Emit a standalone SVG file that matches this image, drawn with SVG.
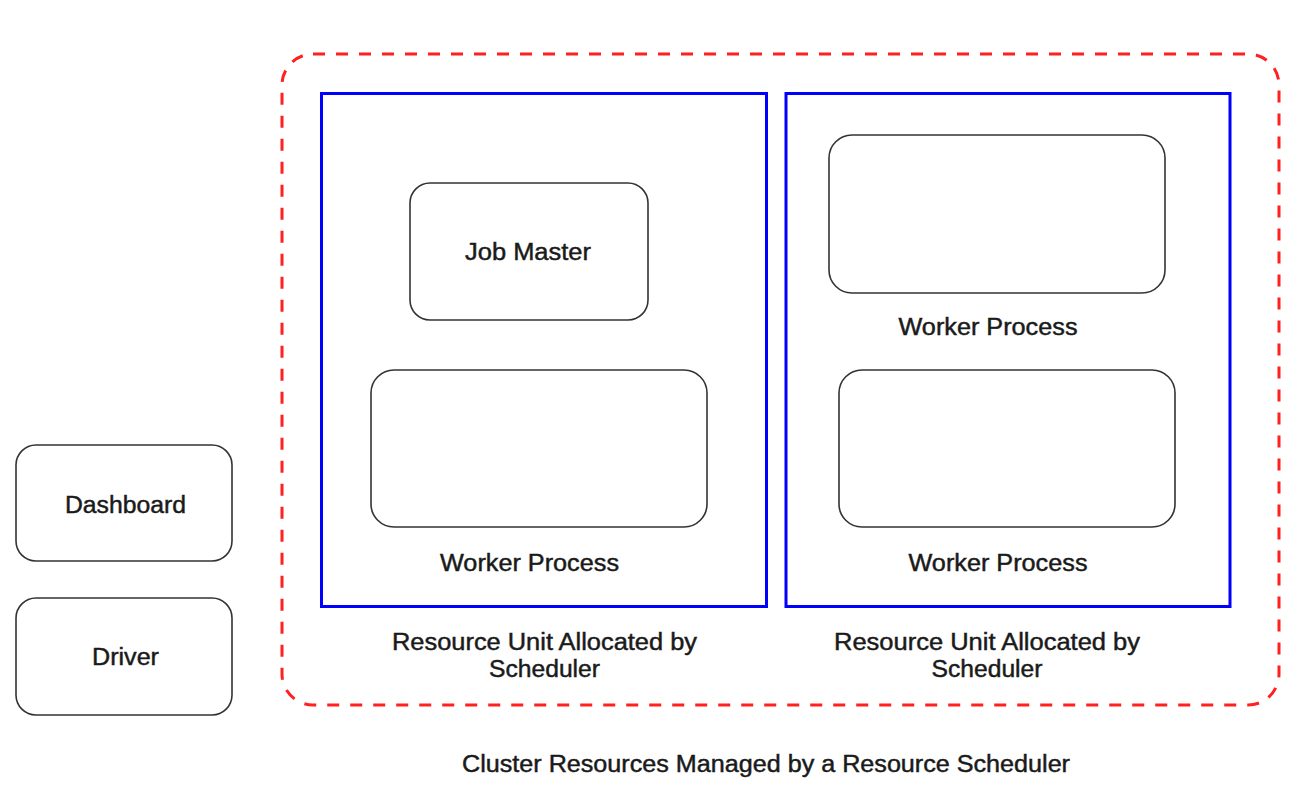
<svg xmlns="http://www.w3.org/2000/svg" width="1304" height="802" viewBox="0 0 1304 802">
<style>
.bg{fill:#ffffff}
.cluster{fill:none;stroke:#ff2020;stroke-width:3;stroke-dasharray:12 11}
.unit{fill:none;stroke:#0000ff;stroke-width:3}
.box{fill:#ffffff;stroke:#333333;stroke-width:1.6}
text{font-family:"Liberation Sans",Arial,Helvetica,sans-serif;font-size:23px;fill:#1a1a1a;stroke:#1a1a1a;stroke-width:0.45;text-anchor:middle}
</style>
<rect class="bg" x="0" y="0" width="1304" height="802"/>
<g id="cluster">
<rect class="cluster" x="282" y="54" width="997" height="651" rx="31" ry="31"/>
<text x="766" y="772" textLength="608" lengthAdjust="spacingAndGlyphs">Cluster Resources Managed by a Resource Scheduler</text>
</g>
<g id="unit1">
<rect class="unit" x="321.5" y="93.5" width="445" height="513"/>
<text x="544.5" y="650" textLength="305" lengthAdjust="spacingAndGlyphs">Resource Unit Allocated by</text>
<text x="544.5" y="677" textLength="111" lengthAdjust="spacingAndGlyphs">Scheduler</text>
</g>
<g id="unit2">
<rect class="unit" x="786" y="93.5" width="444" height="513"/>
<text x="987" y="650" textLength="306" lengthAdjust="spacingAndGlyphs">Resource Unit Allocated by</text>
<text x="987" y="677" textLength="111" lengthAdjust="spacingAndGlyphs">Scheduler</text>
</g>
<g id="job-master">
<rect class="box" x="410" y="183" width="238" height="137" rx="20" ry="20"/>
<text x="528" y="260" textLength="126" lengthAdjust="spacingAndGlyphs">Job Master</text>
</g>
<g id="worker1">
<rect class="box" x="371" y="370" width="336" height="157" rx="23" ry="23"/>
<text x="529.5" y="571" textLength="179" lengthAdjust="spacingAndGlyphs">Worker Process</text>
</g>
<g id="worker2">
<rect class="box" x="829" y="135" width="336" height="158" rx="23" ry="23"/>
<text x="988" y="335" textLength="179" lengthAdjust="spacingAndGlyphs">Worker Process</text>
</g>
<g id="worker3">
<rect class="box" x="839" y="370" width="336" height="157" rx="23" ry="23"/>
<text x="998" y="571" textLength="179" lengthAdjust="spacingAndGlyphs">Worker Process</text>
</g>
<g id="dashboard">
<rect class="box" x="16" y="445" width="216" height="116" rx="20" ry="20"/>
<text x="125.5" y="513" textLength="121" lengthAdjust="spacingAndGlyphs">Dashboard</text>
</g>
<g id="driver">
<rect class="box" x="16" y="598" width="216" height="117" rx="20" ry="20"/>
<text x="125.5" y="665" textLength="67" lengthAdjust="spacingAndGlyphs">Driver</text>
</g>
<g id="connectors"></g>
</svg>
